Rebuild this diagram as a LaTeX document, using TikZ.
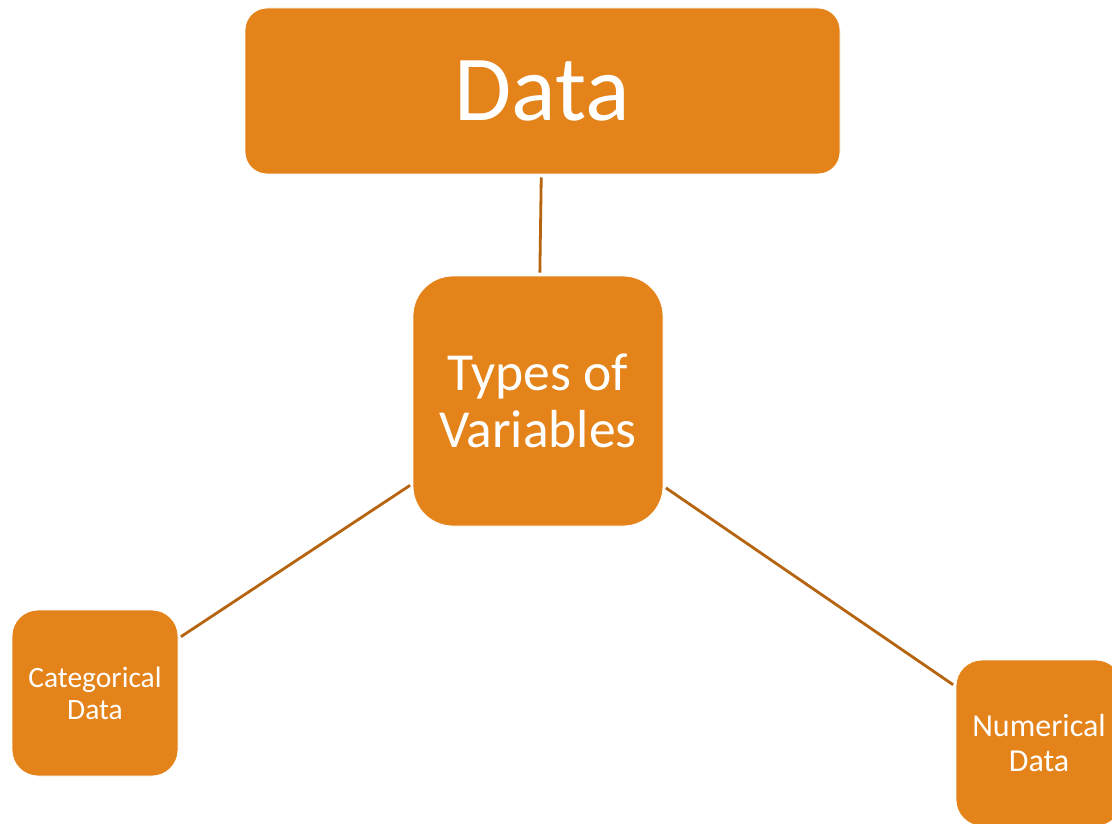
\documentclass[tikz,border=0pt]{standalone}
\usepackage{fontspec}
\setmainfont{Carlito}
\definecolor{boxfill}{HTML}{E4831A}
\definecolor{linkcol}{HTML}{B6640F}
\tikzset{
  ovbox/.style={draw=white, line width=0.8pt, fill=boxfill, text=white, align=center, inner sep=0pt},
  link/.style={draw=linkcol, line width=2.8pt, shorten <=3pt, shorten >=3pt}
}
\begin{document}
\begin{tikzpicture}[x=1pt,y=-1pt]
\useasboundingbox (0,0) rectangle (1112,824);
\clip (0,0) rectangle (1112,824);
\node[ovbox, minimum width=595pt, minimum height=166pt, rounded corners=22pt,
      font=\fontsize{93}{100}\selectfont] (data) at (542.5,91) {Data};
\node[ovbox, minimum width=250pt, minimum height=250pt, rounded corners=40pt,
      font=\fontsize{53.5}{57}\selectfont] (types) at (538,401) {Types of\\Variables};
\node[ovbox, minimum width=166pt, minimum height=166pt, rounded corners=26pt,
      font=\fontsize{29.5}{32}\selectfont] (cat) at (95,693) {Categorical\\Data};
\node[ovbox, minimum width=166pt, minimum height=166pt, rounded corners=26pt,
      font=\fontsize{32}{35}\selectfont] (num) at (1039,743) {Numerical\\Data};
\draw[link] (data) -- (types);
\draw[link] (types) -- (cat);
\draw[link] (types) -- (num);
\end{tikzpicture}
\end{document}
